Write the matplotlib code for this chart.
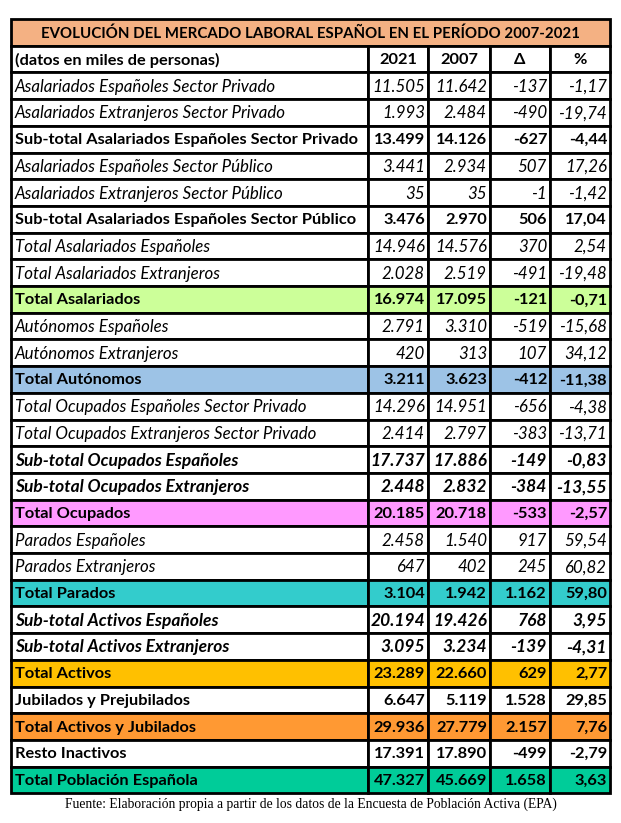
import matplotlib
matplotlib.use("Agg")
import matplotlib.pyplot as plt
from matplotlib.patches import Rectangle

title = "EVOLUCIÓN DEL MERCADO LABORAL ESPAÑOL EN EL PERÍODO 2007-2021"
header = ["(datos en miles de personas)", "2021", "2007", "Δ", "%"]
source = "Fuente: Elaboración propia a partir de los datos de la Encuesta de Población Activa (EPA)"

labels = [
    "Asalariados Españoles Sector Privado",
    "Asalariados Extranjeros Sector Privado",
    "Sub-total Asalariados Españoles Sector Privado",
    "Asalariados Españoles Sector Público",
    "Asalariados Extranjeros Sector Público",
    "Sub-total Asalariados Españoles Sector Público",
    "Total Asalariados Españoles",
    "Total Asalariados Extranjeros",
    "Total Asalariados",
    "Autónomos Españoles",
    "Autónomos Extranjeros",
    "Total Autónomos",
    "Total Ocupados Españoles Sector Privado",
    "Total Ocupados Extranjeros Sector Privado",
    "Sub-total Ocupados Españoles",
    "Sub-total Ocupados Extranjeros",
    "Total Ocupados",
    "Parados Españoles",
    "Parados Extranjeros",
    "Total Parados",
    "Sub-total Activos Españoles",
    "Sub-total Activos Extranjeros",
    "Total Activos",
    "Jubilados y Prejubilados",
    "Total Activos y Jubilados",
    "Resto Inactivos",
    "Total Población Española",
]
v2021 = [11505, 1993, 13499, 3441, 35, 3476, 14946, 2028, 16974, 2791, 420, 3211,
         14296, 2414, 17737, 2448, 20185, 2458, 647, 3104, 20194, 3095, 23289,
         6647, 29936, 17391, 47327]
v2007 = [11642, 2484, 14126, 2934, 35, 2970, 14576, 2519, 17095, 3310, 313, 3623,
         14951, 2797, 17886, 2832, 20718, 1540, 402, 1942, 19426, 3234, 22660,
         5119, 27779, 17890, 45669]
delta = [-137, -490, -627, 507, -1, 506, 370, -491, -121, -519, 107, -412,
         -656, -383, -149, -384, -533, 917, 245, 1162, 768, -139, 629,
         1528, 2157, -499, 1658]
pct = [-1.17, -19.74, -4.44, 17.26, -1.42, 17.04, 2.54, -19.48, -0.71, -15.68, 34.12, -11.38,
       -4.38, -13.71, -0.83, -13.55, -2.57, 59.54, 60.82, 59.80, 3.95, -4.31, 2.77,
       29.85, 7.76, -2.79, 3.63]

# row styles: i = italic, b = bold, bi = bold italic
styles = ["i", "i", "b", "i", "i", "b", "i", "i", "b", "i", "i", "b",
          "i", "i", "bi", "bi", "b", "i", "i", "b", "bi", "bi", "b",
          "b", "b", "b", "b"]
fills = {8: "#CCFF99", 11: "#9DC3E6", 16: "#FF99FF", 19: "#33CCCC",
         22: "#FFC000", 24: "#FF9933", 26: "#00CC99"}
sizes = {"i": 12.2, "b": 11.8, "bi": 12.5}


def fmt_int(v):
    s = f"{abs(v):,}".replace(",", ".")
    return ("-" if v < 0 else "") + s


def fmt_pct(v):
    return f"{v:.2f}".replace(".", ",")


fig = plt.figure(figsize=(6.21, 8.23), dpi=100)
ax = fig.add_axes([0, 0, 1, 1])
ax.set_xlim(0, 621)
ax.set_ylim(823, 0)
ax.axis("off")

fam = ["Lato", "DejaVu Sans"]
left, right = 11, 610
cols = [11, 368, 428, 490, 550, 610]
top = 19
rh = 26.7
lw = 2.0

# title row
ax.add_patch(Rectangle((left, top), right - left, rh, facecolor="#F4B183",
                       edgecolor="black", lw=lw))
ax.text((left + right) / 2, top + rh / 2 + 1, title, ha="center", va="center",
        fontsize=10.8, fontweight="bold", family=fam)

# header row
y0 = top + rh
for c in range(5):
    ax.add_patch(Rectangle((cols[c], y0), cols[c + 1] - cols[c], rh,
                           facecolor="white", edgecolor="black", lw=lw))
ax.text(cols[0] + 4, y0 + rh / 2 + 1, header[0], ha="left", va="center",
        fontsize=11.8, fontweight="bold", family=fam)
for c in range(1, 5):
    ax.text((cols[c] + cols[c + 1]) / 2, y0 + rh / 2 + 1, header[c], ha="center",
            va="center", fontsize=11.8, fontweight="bold", family=fam)

for r, lab in enumerate(labels):
    y = top + rh * (r + 2)
    fc = fills.get(r, "white")
    st = styles[r]
    weight = "bold" if "b" in st else "normal"
    style = "italic" if "i" in st else "normal"
    fs = sizes[st]
    for c in range(5):
        ax.add_patch(Rectangle((cols[c], y), cols[c + 1] - cols[c], rh,
                               facecolor=fc, edgecolor="black", lw=lw))
    yc = y + rh / 2 + 1
    ax.text(cols[0] + 4, yc, lab, ha="left", va="center", fontsize=fs,
            fontweight=weight, fontstyle=style, family=fam)
    vals = [fmt_int(v2021[r]), fmt_int(v2007[r]), fmt_int(delta[r]), fmt_pct(pct[r])]
    for c, s in enumerate(vals):
        ax.text(cols[c + 2] - 3, yc, s, ha="right", va="center", fontsize=fs,
                fontweight=weight, fontstyle=style, family=fam)

ax.text((left + right) / 2, top + rh * 29 + 11, source, ha="center", va="center",
        fontsize=9.8, family=["Liberation Serif", "DejaVu Serif"])

fig.savefig("out.png", dpi=100)
